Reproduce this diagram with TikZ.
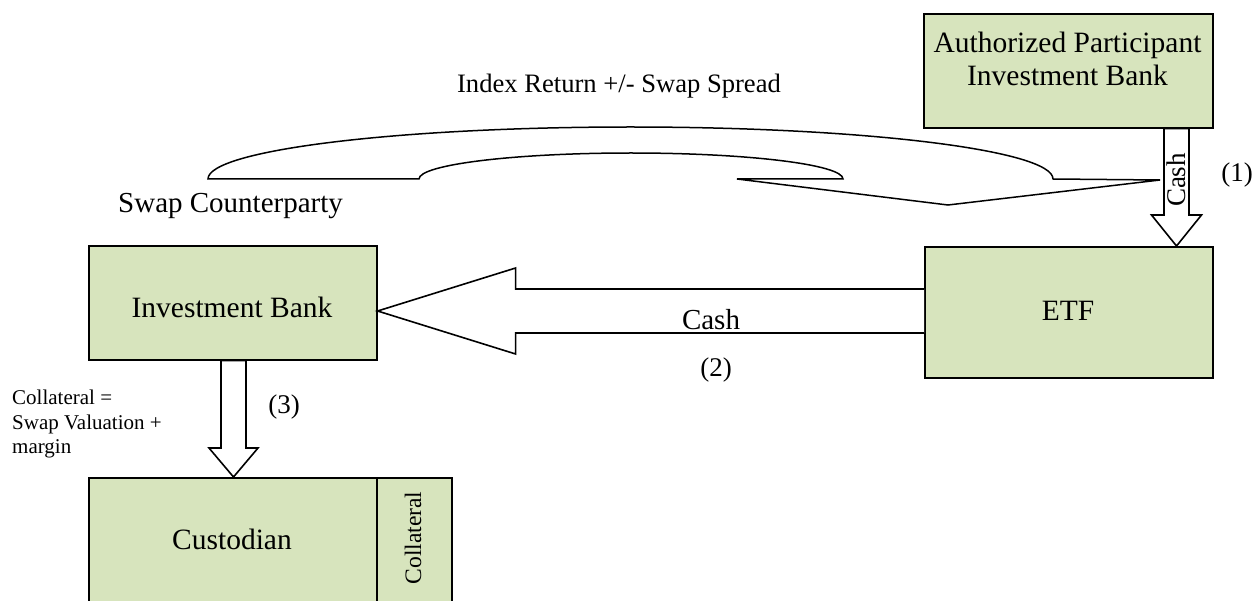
\documentclass[tikz,border=0pt]{standalone}
\usepackage{fontspec}
\setmainfont{Liberation Serif}
\usetikzlibrary{calc}
\definecolor{boxgreen}{HTML}{D7E4BD}
\tikzset{
  box/.style={draw=black, fill=boxgreen, line width=1.6pt, rectangle,
    inner sep=0pt, anchor=north west},
  blockarrow/.style={draw=black, fill=white, line width=1.6pt, line join=miter},
  boxtext/.style={font=\fontsize{29.5}{33}\selectfont, inner sep=0pt},
  labeltext/.style={font=\fontsize{27}{30}\selectfont, inner sep=0pt},
  smalltext/.style={font=\fontsize{21}{24.5}\selectfont, inner sep=0pt, anchor=base west},
}
\begin{document}
\begin{tikzpicture}[x=1pt,y=-1pt]
\useasboundingbox (0,0) rectangle (1257,601);
\clip (0,0) rectangle (1257,601);

% boxes
\node[box, minimum width=289pt, minimum height=114pt] (ap) at (923,13) {};
\node[box, minimum width=288pt, minimum height=131pt] (etf) at (924,246) {};
\node[box, minimum width=288pt, minimum height=114pt] (ib) at (88,245) {};
\node[box, minimum width=288pt, minimum height=160pt] (cust) at (88,477) {};
\node[box, minimum width=75pt, minimum height=160pt] (strip) at (376,477) {};

% box texts
\node[boxtext, anchor=base] (aptext1) at (1067.5,53) {Authorized Participant};
\node[boxtext, anchor=base] (aptext2) at (1067.5,86) {Investment Bank};
\node[boxtext, anchor=base] (etftext) at (1068,320) {ETF};
\node[boxtext, anchor=base] (ibtext) at (232,317) {Investment Bank};
\node[boxtext, anchor=base] (custtext) at (232,549) {Custodian};
\node[font=\fontsize{23.6}{26}\selectfont, inner sep=0pt, rotate=90] (striptext) at (413,538) {Collateral};

% (1) cash from the authorized participant into the ETF
\coordinate (a1s) at (ap.south -| 1176.5,0);
\coordinate (a1t) at (etf.north -| 1176.5,0);
\draw[blockarrow] ($(a1s)+(-12.5,0)$) -- ($(a1s)+(12.5,0)$) -- ($(a1t)+(12.5,-31)$)
  -- ($(a1t)+(25,-31)$) -- (a1t) -- ($(a1t)+(-25,-31)$) -- ($(a1t)+(-12.5,-31)$) -- cycle;
\node[labeltext, rotate=90] (cash1) at (1176,180) {Cash};
\node[labeltext, anchor=base] (lab1) at (1237,182) {(1)};

% (2) cash from the ETF to the investment bank
\coordinate (a2s) at (etf.west |- 0,311);
\coordinate (a2t) at (ib.east |- 0,311);
\draw[blockarrow] ($(a2s)+(0,-22)$) -- ($(a2t)+(138,-22)$) -- ($(a2t)+(138,-43)$)
  -- (a2t) -- ($(a2t)+(138,43)$) -- ($(a2t)+(138,22)$) -- ($(a2s)+(0,22)$);
\node[font=\fontsize{29}{32}\selectfont, inner sep=0pt, anchor=base] (cash2) at (711,330) {Cash};
\node[labeltext, anchor=base] (lab2) at (716,376) {(2)};

% (3) collateral from the investment bank to the custodian
\coordinate (a3s) at (ib.south -| 233.5,0);
\coordinate (a3t) at (cust.north -| 233.5,0);
\draw[blockarrow] ($(a3s)+(-12.5,0)$) -- ($(a3s)+(12.5,0)$) -- ($(a3t)+(12.5,-29)$)
  -- ($(a3t)+(24.5,-29)$) -- (a3t) -- ($(a3t)+(-24.5,-29)$) -- ($(a3t)+(-12.5,-29)$) -- cycle;
\node[labeltext, anchor=base] (lab3) at (284,413) {(3)};
\node[smalltext] (coll1) at (12,404) {Collateral =};
\node[smalltext] (coll2) at (12,429) {Swap Valuation +};
\node[smalltext] (coll3) at (12,453) {margin};

% curved arrow: swap return
\coordinate (cl) at (208,179);
\coordinate (ctip) at (1160,180);
\draw[blockarrow, line width=1.5pt] (cl) -- (419,179)
  arc[start angle=180, end angle=0, x radius=212pt, y radius=26pt]
  -- (737,179) -- (948,205) -- (ctip) -- (1053,179)
  arc[start angle=0, end angle=180, x radius=422.5pt, y radius=52pt] -- cycle;
\node[labeltext, font=\fontsize{26.6}{30}\selectfont, anchor=base] (idx) at (619,93) {Index Return +/- Swap Spread};
\node[font=\fontsize{29}{32}\selectfont, inner sep=0pt, anchor=base west] (swapcp) at (118,213) {Swap Counterparty};
\end{tikzpicture}
\end{document}
